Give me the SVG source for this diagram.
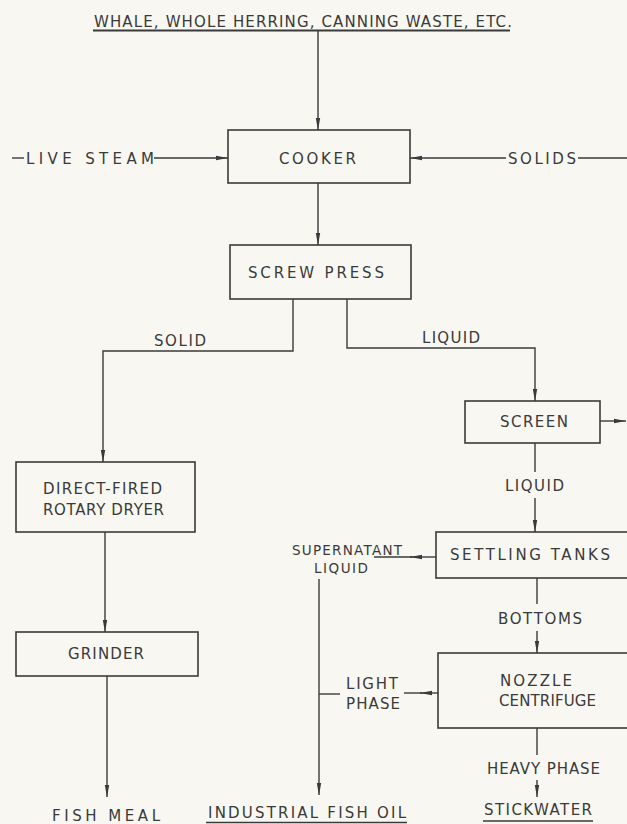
<svg xmlns="http://www.w3.org/2000/svg" width="627" height="824" viewBox="0 0 627 824">
<style>
.box{fill:none;stroke:#3a3a3a;stroke-width:1.6}
.ln{fill:none;stroke:#3a3a3a;stroke-width:1.4}
.t{font-family:"DejaVu Sans","Liberation Sans",sans-serif;font-size:15px;fill:#3a3a3a;text-anchor:start}
.s{font-size:13.5px}
</style>
<defs>
<marker id="ah" viewBox="0 0 12 6" refX="12" refY="3" markerWidth="12" markerHeight="6" markerUnits="userSpaceOnUse" orient="auto">
<path d="M0,0.8 L12,3 L0,5.2 Z" fill="#3a3a3a"/>
</marker>
</defs>
<rect width="627" height="824" fill="#f8f7f1"/>
<g id="connectors">
<path class="ln" d="M318,30 V130" marker-end="url(#ah)"/>
<path class="ln" d="M12,158 H24"/>
<path class="ln" d="M154,158 H228" marker-end="url(#ah)"/>
<path class="ln" d="M506,158 H410" marker-end="url(#ah)"/>
<path class="ln" d="M578,158 H627"/>
<path class="ln" d="M318,183 V245" marker-end="url(#ah)"/>
<path class="ln" d="M293,299 V351 H103 V462" marker-end="url(#ah)"/>
<path class="ln" d="M347,299 V348 H535 V401" marker-end="url(#ah)"/>
<path class="ln" d="M600,421 H626" marker-end="url(#ah)"/>
<path class="ln" d="M535,443 V472"/>
<path class="ln" d="M535,498 V532" marker-end="url(#ah)"/>
<path class="ln" d="M105,532 V632" marker-end="url(#ah)"/>
<path class="ln" d="M107,676 V797" marker-end="url(#ah)"/>
<path class="ln" d="M436,557 H410" marker-end="url(#ah)"/>
<path class="ln" d="M412,557 H374"/>
<path class="ln" d="M319,579 V795" marker-end="url(#ah)"/>
<path class="ln" d="M537,578 V604"/>
<path class="ln" d="M537,631 V653" marker-end="url(#ah)"/>
<path class="ln" d="M438,693 H420" marker-end="url(#ah)"/>
<path class="ln" d="M422,693 H404"/>
<path class="ln" d="M319,694 H340"/>
<path class="ln" d="M537,728 V755"/>
<path class="ln" d="M537,780 V797" marker-end="url(#ah)"/>
</g>
<g id="source">
<text class="t" x="94" y="27" textLength="418" lengthAdjust="spacing">WHALE, WHOLE HERRING, CANNING WASTE, ETC.</text>
<path class="ln" d="M93,30.5 H510" style="stroke-width:1.8"/>
</g>
<g id="live-steam"><text class="t" x="26" y="164" textLength="128" lengthAdjust="spacing">LIVE STEAM</text></g>
<g id="solids-in"><text class="t" x="508" y="164" textLength="68" lengthAdjust="spacing">SOLIDS</text></g>
<g id="cooker">
<rect class="box" x="228" y="130" width="182" height="53"/>
<text class="t" x="279" y="164" textLength="77" lengthAdjust="spacing">COOKER</text>
</g>
<g id="screw-press">
<rect class="box" x="230" y="245" width="181" height="54"/>
<text class="t" x="248" y="278" textLength="136" lengthAdjust="spacing">SCREW PRESS</text>
</g>
<g id="solid-label"><text class="t" x="154" y="346" textLength="52" lengthAdjust="spacing">SOLID</text></g>
<g id="liquid-label"><text class="t" x="422" y="343" textLength="58" lengthAdjust="spacing">LIQUID</text></g>
<g id="screen">
<rect class="box" x="465" y="401" width="135" height="42"/>
<text class="t" x="500" y="427" textLength="68" lengthAdjust="spacing">SCREEN</text>
</g>
<g id="liquid2-label"><text class="t" x="505" y="491" textLength="59" lengthAdjust="spacing">LIQUID</text></g>
<g id="dryer">
<rect class="box" x="16" y="462" width="179" height="70"/>
<text class="t" x="43" y="494" textLength="119" lengthAdjust="spacing">DIRECT-FIRED</text>
<text class="t" x="43" y="515" textLength="121" lengthAdjust="spacing">ROTARY DRYER</text>
</g>
<g id="settling-tanks">
<rect class="box" x="436" y="532" width="196" height="46"/>
<text class="t" x="450" y="560" textLength="160" lengthAdjust="spacing">SETTLING TANKS</text>
</g>
<g id="supernatant">
<text class="t s" x="292" y="555" textLength="110" lengthAdjust="spacing">SUPERNATANT</text>
<text class="t s" x="314" y="573" textLength="54" lengthAdjust="spacing">LIQUID</text>
</g>
<g id="bottoms-label"><text class="t" x="498" y="624" textLength="84" lengthAdjust="spacing">BOTTOMS</text></g>
<g id="grinder">
<rect class="box" x="16" y="632" width="182" height="44"/>
<text class="t" x="68" y="659" textLength="76" lengthAdjust="spacing">GRINDER</text>
</g>
<g id="centrifuge">
<rect class="box" x="438" y="653" width="194" height="75"/>
<text class="t" x="500" y="686" textLength="72" lengthAdjust="spacing">NOZZLE</text>
<text class="t" x="499" y="706" textLength="97" lengthAdjust="spacing">CENTRIFUGE</text>
</g>
<g id="light-phase">
<text class="t" x="346" y="689" textLength="52" lengthAdjust="spacing">LIGHT</text>
<text class="t" x="346" y="709" textLength="54" lengthAdjust="spacing">PHASE</text>
</g>
<g id="heavy-phase"><text class="t" x="487" y="774" textLength="113" lengthAdjust="spacing">HEAVY PHASE</text></g>
<g id="fish-meal"><text class="t" x="52" y="821" textLength="108" lengthAdjust="spacing">FISH MEAL</text></g>
<g id="fish-oil">
<text class="t" x="208" y="818" textLength="198" lengthAdjust="spacing">INDUSTRIAL FISH OIL</text>
<path class="ln" d="M206,822.5 H407"/>
</g>
<g id="stickwater">
<text class="t" x="484" y="815" textLength="108" lengthAdjust="spacing">STICKWATER</text>
<path class="ln" d="M483,821 H593"/>
</g>
</svg>
